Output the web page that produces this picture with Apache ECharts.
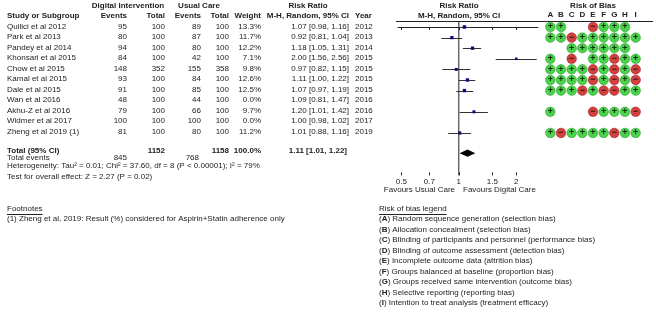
<!DOCTYPE html>
<html>
<head>
<meta charset="utf-8">
<script src="https://cdn.jsdelivr.net/npm/echarts@6/dist/echarts.min.js"></script>
<style>
  html, body { margin: 0; padding: 0; background: #fff; }
  #chart { width: 656px; height: 320px; }
</style>
</head>
<body>
<div id="chart"></div>
<script>
// ---- data ----
var studies = ['Quilici et al 2012', 'Park et al 2013', 'Pandey et al 2014', 'Khonsari et al 2015', 'Chow et al 2015',
  'Kamal et al 2015', 'Dale et al 2015', 'Wan et al 2016', 'Akhu-Z et al 2016', 'Widmer et al 2017', 'Zheng et al 2019 (1)'];
var diEvents = [95, 80, 94, 84, 148, 93, 91, 48, 79, 100, 81];
var diTotal = [100, 100, 100, 100, 352, 100, 100, 100, 100, 100, 100];
var ucEvents = [89, 87, 80, 42, 155, 84, 85, 44, 66, 100, 80];
var ucTotal = [100, 100, 100, 100, 358, 100, 100, 100, 100, 100, 100];
var weights = [13.3, 11.7, 12.2, 7.1, 9.8, 12.6, 12.5, 0.0, 9.7, 0.0, 11.2];
var riskRatio = [1.07, 0.92, 1.18, 2.00, 0.97, 1.11, 1.07, 1.09, 1.20, 1.00, 1.01];
var ciLow = [0.98, 0.81, 1.05, 1.56, 0.82, 1.00, 0.97, 0.81, 1.01, 0.98, 0.88];
var ciHigh = [1.16, 1.04, 1.31, 2.56, 1.15, 1.22, 1.19, 1.47, 1.42, 1.02, 1.16];
var years = [2012, 2013, 2014, 2015, 2015, 2015, 2015, 2016, 2016, 2017, 2019];

var totalDi = 1152, totalUc = 1158;
var totalWeight = '100.0%';
var pooled = [1.11, 1.01, 1.22];   // estimate, low, high
var totalEvents = [845, 768];
var heterogeneity = 'Heterogeneity: Tau\u00b2 = 0.01; Chi\u00b2 = 37.60, df = 8 (P < 0.00001); I\u00b2 = 79%';
var overallEffect = 'Test for overall effect: Z = 2.27 (P = 0.02)';
var axisTicks = [0.5, 0.7, 1, 1.5, 2];
var favours = ['Favours Usual Care', 'Favours Digital Care'];

// risk of bias per study, columns A..I ('+' low, '-' high, ' ' unclear)
var biasDomains = ['A', 'B', 'C', 'D', 'E', 'F', 'G', 'H', 'I'];
var biasTable = [
  '++  -+++ ',
  '++-++++++',
  '  ++++++ ',
  '+ - ++-++',
  '++++-+-+-',
  '++++-+-+-',
  '+++-+--++',
  '         ',
  '+   -+++-',
  '         ',
  '+-++++-++'
];
var biasLegend = [
  'Random sequence generation (selection bias)',
  'Allocation concealment (selection bias)',
  'Blinding of participants and personnel (performance bias)',
  'Blinding of outcome assessment (detection bias)',
  'Incomplete outcome data (attrition bias)',
  'Groups balanced at baseline (proportion bias)',
  'Groups received same intervention (outcome bias)',
  'Selective reporting (reporting bias)',
  'Intention to treat analysis (treatment efficacy)'
];
var footnote = '(1) Zheng et al, 2019: Result (%) considered for Aspirin+Statin adherence only';

// ---- layout ----
var FONT = '"Liberation Sans", Arial, sans-serif';
var TXT = '#222';
var ROW_Y0 = 27, ROW_H = 10.6;
var TOP = ROW_Y0 - 2 * ROW_H;

function fmt2(v) { return v.toFixed(2); }
function ciText(e, l, h) { return fmt2(e) + ' [' + fmt2(l) + ', ' + fmt2(h) + ']'; }

var measureCtx = document.createElement('canvas').getContext('2d');
function textWidth(s, bold) {
  measureCtx.font = (bold ? 'bold ' : '') + '8px ' + FONT;
  return measureCtx.measureText(s).width;
}

// text items for the table layer
var texts = [];
function t(x, row, text, align, bold, extra) {
  var o = { x: x, row: row, text: String(text), align: align || 'left', bold: !!bold };
  if (extra) for (var k in extra) o[k] = extra[k];
  texts.push(o);
}

t(128, -2, 'Digital Intervention', 'center', true);
t(199, -2, 'Usual Care', 'center', true);
t(308, -2, 'Risk Ratio', 'center', true);
t(459, -2, 'Risk Ratio', 'center', true);
t(593, -2, 'Risk of Bias', 'center', true);
t(7, -1, 'Study or Subgroup', 'left', true);
t(127, -1, 'Events', 'right', true);
t(165, -1, 'Total', 'right', true);
t(201, -1, 'Events', 'right', true);
t(229, -1, 'Total', 'right', true);
t(261, -1, 'Weight', 'right', true);
t(349, -1, 'M-H, Random, 95% CI', 'right', true);
t(355, -1, 'Year', 'left', true);
t(459, -1, 'M-H, Random, 95% CI', 'center', true);
t(396, -0.55, '', 'left', false, { hline: 653 });

studies.forEach(function (s, i) {
  t(7, i, s, 'left');
  t(127, i, diEvents[i], 'right');
  t(165, i, diTotal[i], 'right');
  t(201, i, ucEvents[i], 'right');
  t(229, i, ucTotal[i], 'right');
  t(261, i, weights[i].toFixed(1) + '%', 'right');
  t(349, i, ciText(riskRatio[i], ciLow[i], ciHigh[i]), 'right');
  t(355, i, years[i], 'left');
});

var TOTAL_ROW = 11.8;
t(7, TOTAL_ROW, 'Total (95% CI)', 'left', true);
t(165, TOTAL_ROW, totalDi, 'right', true);
t(229, TOTAL_ROW, totalUc, 'right', true);
t(261, TOTAL_ROW, totalWeight, 'right', true);
t(347, TOTAL_ROW, ciText(pooled[0], pooled[1], pooled[2]), 'right', true);
t(7, 12.55, 'Total events', 'left');
t(127, 12.55, totalEvents[0], 'right');
t(199, 12.55, totalEvents[1], 'right');
t(7, 13.3, heterogeneity, 'left');
t(7, 14.3, overallEffect, 'left');

t(455, 15.57, favours[0], 'right');
t(463, 15.57, favours[1], 'left');

t(7, 17.36, 'Footnotes', 'left', false, { underline: true });
t(7, 18.37, footnote, 'left');
t(379, 17.36, 'Risk of bias legend', 'left', false, { underline: true });
biasLegend.forEach(function (s, k) {
  t(379, 18.37 + k, '({b|' + biasDomains[k] + '}) ' + s, 'left', false, { rich: true });
});

// forest marks (studies with zero weight are not drawn)
var ciData = [], squareData = [];
studies.forEach(function (s, i) {
  if (weights[i] > 0) {
    ciData.push([ciLow[i], ciHigh[i], i]);
    squareData.push({ value: [riskRatio[i], i], symbolSize: Math.sqrt(weights[i]) * 0.95 });
  }
});

// bias circles
var biasData = [];
biasTable.forEach(function (r, i) {
  for (var k = 0; k < r.length; k++) {
    var c = r.charAt(k);
    if (c === ' ') continue;
    var good = c === '+';
    biasData.push({
      value: [k, i],
      itemStyle: { color: good ? '#1fc51f' : '#c81010', borderColor: good ? '#149414' : '#8e0a0a', borderWidth: 0.6 },
      label: { formatter: good ? '+' : '\u2212' }
    });
  }
});

var chart = echarts.init(document.getElementById('chart'), null, { renderer: 'canvas' });

var logAxisBase = {
  type: 'log', logBase: 2, min: 0.48, max: 2.6, gridIndex: 1, position: 'bottom',
  splitLine: { show: false }, minorTick: { show: false }
};

chart.setOption({
  animation: false,
  grid: [
    { left: 0, top: TOP, width: 656, height: 30 * ROW_H },
    { left: 398, top: TOP, width: 140, height: 16 * ROW_H },
    { left: 545, top: TOP + 1.45 * ROW_H, width: 96, height: 14.55 * ROW_H }
  ],
  xAxis: [
    { type: 'value', gridIndex: 0, min: 0, max: 656, show: false },
    Object.assign({}, logAxisBase, {
      axisLine: { show: true, lineStyle: { color: TXT, width: 1 } },
      axisTick: { show: true, customValues: axisTicks, length: 3, lineStyle: { color: TXT } },
      axisLabel: {
        show: true, customValues: axisTicks, margin: 2, fontSize: 8, fontFamily: FONT, color: TXT,
        formatter: function (v) { return String(+(+v).toFixed(2)); }
      }
    }),
    Object.assign({}, logAxisBase, {
      axisLine: { show: false },
      axisTick: { show: true, inside: true, customValues: axisTicks, length: 3, lineStyle: { color: TXT } },
      axisLabel: { show: false }
    }),
    {
      type: 'category', gridIndex: 2, data: biasDomains, position: 'top',
      axisLine: { show: false }, axisTick: { show: false },
      axisLabel: { margin: 2, fontSize: 8, fontWeight: 'bold', fontFamily: FONT, color: TXT, interval: 0 }
    }
  ],
  yAxis: [
    { type: 'value', gridIndex: 0, min: -2, max: 28, inverse: true, show: false },
    { type: 'value', gridIndex: 1, min: -2, max: 14, inverse: true, show: false },
    { type: 'value', gridIndex: 2, min: -0.55, max: 14, inverse: true, show: false }
  ],
  series: [
    {
      type: 'custom', xAxisIndex: 0, yAxisIndex: 0, silent: true,
      data: texts.map(function (o) { return [o.x, o.row]; }),
      renderItem: function (params, api) {
        var it = texts[params.dataIndex];
        var p = api.coord([it.x, it.row]);
        if (it.hline) {
          var p2 = api.coord([it.hline, it.row]);
          return { type: 'line', shape: { x1: p[0], y1: Math.round(p[1]) + 0.5, x2: p2[0], y2: Math.round(p[1]) + 0.5 },
            style: { stroke: TXT, lineWidth: 1 } };
        }
        var style = {
          text: it.text, fill: TXT, fontSize: 8, fontFamily: FONT,
          fontWeight: it.bold ? 'bold' : 'normal', align: it.align, verticalAlign: 'middle'
        };
        if (it.rich) {
          style.rich = { b: { fontSize: 8, fontFamily: FONT, fontWeight: 'bold', fill: TXT } };
        }
        var children = [{ type: 'text', x: p[0], y: p[1], style: style }];
        if (it.underline) {
          var w = textWidth(it.text, it.bold);
          var uy = Math.round(p[1] + 5) + 0.5;
          children.push({ type: 'line', shape: { x1: p[0], y1: uy, x2: p[0] + w, y2: uy }, style: { stroke: TXT, lineWidth: 1 } });
        }
        return { type: 'group', children: children };
      }
    },
    {
      // line of no effect
      type: 'line', xAxisIndex: 1, yAxisIndex: 1, silent: true, symbol: 'none',
      data: [[1, -0.5], [1, 14]],
      lineStyle: { color: TXT, width: 1 }
    },
    {
      type: 'custom', xAxisIndex: 1, yAxisIndex: 1, silent: true,
      encode: { x: [0, 1], y: 2 },
      data: ciData,
      renderItem: function (params, api) {
        var a = api.coord([api.value(0), api.value(2)]);
        var b = api.coord([api.value(1), api.value(2)]);
        var y = Math.round(a[1]) + 0.5;
        return { type: 'line', shape: { x1: a[0], y1: y, x2: b[0], y2: y }, style: { stroke: '#333', lineWidth: 1 } };
      }
    },
    {
      type: 'scatter', xAxisIndex: 1, yAxisIndex: 1, silent: true, symbol: 'rect',
      data: squareData,
      itemStyle: { color: '#0a0a80', opacity: 1 }
    },
    {
      type: 'custom', xAxisIndex: 1, yAxisIndex: 1, silent: true,
      encode: { x: [0, 1, 2], y: 3 },
      data: [[pooled[1], pooled[0], pooled[2], TOTAL_ROW + 0.1]],
      renderItem: function (params, api) {
        var r = api.value(3);
        var l = api.coord([api.value(0), r]);
        var c = api.coord([api.value(1), r]);
        var h = api.coord([api.value(2), r]);
        return {
          type: 'polygon',
          shape: { points: [[l[0], l[1]], [c[0], c[1] - 3.6], [h[0], h[1]], [c[0], c[1] + 3.6]] },
          style: { fill: '#000' }
        };
      }
    },
    {
      type: 'scatter', xAxisIndex: 3, yAxisIndex: 2, silent: true, symbol: 'circle', symbolSize: 9.6,
      data: biasData,
      label: { show: true, position: 'inside', fontSize: 9, fontWeight: 'bold', color: '#000', fontFamily: FONT }
    }
  ]
});
</script>
</body>
</html>
